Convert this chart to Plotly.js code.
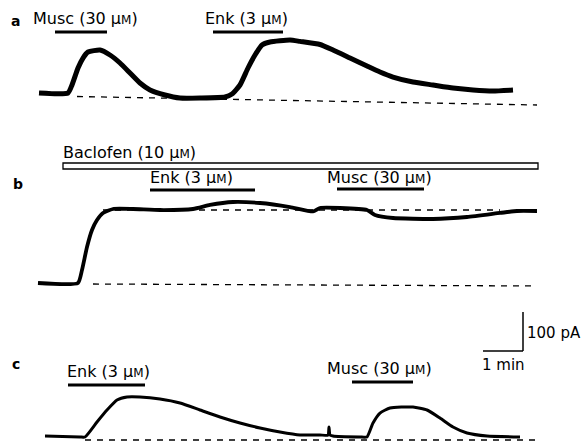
<!DOCTYPE html>
<html><head><meta charset="utf-8">
<script src="https://cdn.plot.ly/plotly-3.0.1.min.js"></script>
<style>html,body{margin:0;padding:0;background:#fff;overflow:hidden}#chart{width:585px;height:442px}</style>
</head><body><div id="chart"></div>
<script>
// ---- Data (time in min, current in pA relative to panel reference level) ----
const timeA = [0.975,1.70,1.80,1.95,2.075,2.20,2.50,2.75,3.00,3.25,3.50,3.75,4.125,4.5,5.0,5.625,5.8,6.0,6.2,6.375,6.55,6.75,7.25,7.5,8.0,8.325,8.75,9.175,9.5,9.825,10.325,10.825,11.325,11.825,12.325,12.825];
const currA = [7.7,7.7,28.2,71.8,97.4,112.8,117.9,105.1,84.6,59.0,33.3,15.4,2.6,-5.1,-5.1,-2.6,5.1,28.2,71.8,105.1,130.8,138.5,143.6,140.0,132.0,117.9,97.4,76.9,61.5,48.7,35.9,28.2,20.5,15.4,12.8,15.4];
const baseA_t = [1.925,13.425];
const baseA_i = [-1.3,-23.1];

const timeB = [0.95,1.95,2.05,2.175,2.30,2.425,2.575,2.825,3.325,4.0,4.825,5.25,5.825,6.5,7.25,7.825,8.0,8.5,9.175,9.375,9.825,10.825,11.675,12.5,12.925,13.425];
const currB = [2.6,2.6,35.9,94.9,138.5,164.1,182.1,192.3,192.3,189.7,192.3,202.6,210.3,207.7,197.4,186.0,194.9,194.9,189.7,176.9,169.2,166.7,171.8,182.1,187.2,187.2];
const baseB_t = [2.325,13.425];
const baseB_i = [0,-5.1];
const plateauB_t = [2.575,12.5];
const plateauB_i = [189.7,189.7];

const timeC = [1.125,2.0,2.125,2.425,2.675,2.925,3.175,3.5,4.0,4.5,5.0,5.5,6.0,6.5,7.0,7.5,8.0,8.2,8.225,8.25,8.325,9.0,9.175,9.325,9.5,9.75,10.325,10.675,11.0,11.325,11.675,12.175,13.0];
const currC = [2.6,0,0,38.5,69.2,94.9,102.6,102.6,97.4,87.2,69.2,51.3,35.9,23.1,12.8,5.1,5.1,5.1,25.6,5.1,2.6,0,0,35.9,61.5,74.4,76.9,69.2,48.7,25.6,10.3,2.6,0];
const baseC_t = [2.125,13.375];
const baseC_i = [-7.7,-7.7];

// drug applications
const drugPanel = ['a','a','b','b','b','c','c'];
const drugLabel = ['Musc (30 μ<span style="font-size:12px">M</span>)','Enk (3 μ<span style="font-size:12px">M</span>)','Baclofen (10 μ<span style="font-size:12px">M</span>)','Enk (3 μ<span style="font-size:12px">M</span>)','Musc (30 μ<span style="font-size:12px">M</span>)','Enk (3 μ<span style="font-size:12px">M</span>)','Musc (30 μ<span style="font-size:12px">M</span>)'];
const drugStart = [1.375,5.325,1.575,3.75,8.425,1.7,8.8];
const drugEnd   = [2.675,7.075,13.45,6.375,10.6,3.625,10.325];
const drugOpen  = [false,false,true,false,false,false,false];

const panelNames = ['a','b','c'];
const scaleTime = 1;   // min
const scaleCurr = 100; // pA

// ---- Layout helpers (pixel -> axis units; 40 px per min, 39 px per 100 pA) ----
const W = 585, H = 442;
const PXMIN = 40, PXPA = 0.39;
const xr = [0, W / PXMIN];
const yr = [0, H / PXPA];
const X = p => p / PXMIN;
const Y = p => (H - p) / PXPA;
const offset = {a: Y(96), b: Y(284), c: Y(437)};

const tr = [];
function trace(t, i, off, w, dash) {
  tr.push({x: t, y: i.map(v => v + off), mode: 'lines', hoverinfo: 'skip',
    line: {color: '#000', width: w, dash: dash || 'solid', shape: 'spline', smoothing: 0.5}});
}
trace(baseA_t, baseA_i, offset.a, 1.3, '6px,6px');
trace(baseB_t, baseB_i, offset.b, 1.3, '6px,6px');
trace(plateauB_t, plateauB_i, offset.b, 1.3, '6px,6px');
trace(baseC_t, baseC_i, offset.c, 1.3, '6px,6px');
trace(timeA, currA, offset.a, 5);
trace(timeB, currB, offset.b, 3.8);
trace(timeC, currC, offset.c, 3);

// bar pixel rows and label positions (layout)
const barRow = [32, 32, 166, 190, 189, 385, 382];
const labelX = [33, 205, 63, 150, 327, 67, 327];
const labelBase = [25, 25, 159, 184, 184, 378, 375];

const shapes = [];
const ann = [];
const FONT = 'DejaVu Sans, sans-serif';
for (let k = 0; k < drugStart.length; k++) {
  if (drugOpen[k]) {
    shapes.push({type: 'rect', xref: 'x', yref: 'y', x0: drugStart[k], x1: drugEnd[k],
      y0: Y(barRow[k] + 3), y1: Y(barRow[k] - 3), line: {color: '#000', width: 1.3}, fillcolor: '#fff'});
  } else {
    shapes.push({type: 'line', xref: 'x', yref: 'y', x0: drugStart[k], x1: drugEnd[k],
      y0: Y(barRow[k]), y1: Y(barRow[k]), line: {color: '#000', width: 3}});
  }
  ann.push({xref: 'x', yref: 'y', x: X(labelX[k] - 2), y: Y(labelBase[k] + 5), xanchor: 'left', yanchor: 'bottom',
    text: drugLabel[k], showarrow: false, font: {family: FONT, size: 16, color: '#000'}});
}
// panel letters
const letterPos = [[15, 21], [18, 184], [16, 364]];
panelNames.forEach((n, k) => {
  ann.push({xref: 'x', yref: 'y', x: X(letterPos[k][0]), y: Y(letterPos[k][1]), xanchor: 'center', yanchor: 'middle',
    text: '<b>' + n + '</b>', showarrow: false, font: {family: FONT, size: 14, color: '#000'}});
});
// scale bar
const sbX = X(523), sbY = Y(351);
shapes.push({type: 'line', xref: 'x', yref: 'y', x0: sbX - scaleTime, x1: sbX, y0: sbY, y1: sbY, line: {color: '#000', width: 1.5}});
shapes.push({type: 'line', xref: 'x', yref: 'y', x0: sbX, x1: sbX, y0: sbY, y1: sbY + scaleCurr, line: {color: '#000', width: 1.5}});
ann.push({xref: 'x', yref: 'y', x: sbX + X(2), y: Y(333), xanchor: 'left', yanchor: 'middle',
  text: scaleCurr + ' pA', showarrow: false, font: {family: FONT, size: 15, color: '#000'}});
ann.push({xref: 'x', yref: 'y', x: sbX - scaleTime / 2, y: Y(354), xanchor: 'center', yanchor: 'top',
  text: scaleTime + ' min', showarrow: false, font: {family: FONT, size: 15, color: '#000'}});

const layout = {
  width: W, height: H, margin: {l: 0, r: 0, t: 0, b: 0},
  paper_bgcolor: '#fff', plot_bgcolor: '#fff', showlegend: false,
  xaxis: {range: xr, visible: false, fixedrange: true},
  yaxis: {range: yr, visible: false, fixedrange: true},
  shapes: shapes, annotations: ann
};
Plotly.newPlot('chart', tr, layout, {displayModeBar: false, staticPlot: true});
</script></body></html>
